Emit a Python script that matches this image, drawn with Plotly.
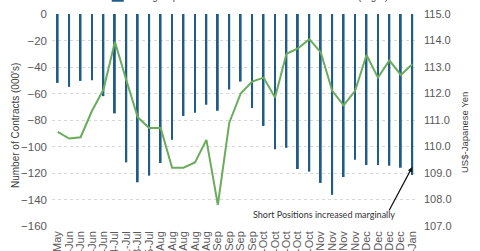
import plotly.graph_objects as go

dates = ["30-May", "6-Jun", "13-Jun", "20-Jun", "27-Jun", "4-Jul", "11-Jul", "18-Jul",
         "25-Jul", "1-Aug", "8-Aug", "15-Aug", "22-Aug", "29-Aug", "5-Sep", "12-Sep",
         "19-Sep", "26-Sep", "3-Oct", "10-Oct", "17-Oct", "24-Oct", "31-Oct", "7-Nov",
         "14-Nov", "21-Nov", "28-Nov", "5-Dec", "12-Dec", "19-Dec", "26-Dec", "2-Jan"]

large_speculators = [-52, -55, -50.5, -50, -62, -75, -112, -127, -122, -112.5, -95, -77,
                     -74.5, -68.5, -73, -57, -51, -71, -84.5, -102, -101, -117, -119,
                     -127.5, -136.5, -123, -110, -114, -114, -114.5, -116, -121.5]

usd_yen = [110.55, 110.3, 110.35, 111.35, 112.15, 113.95, 112.5, 111.1, 110.7, 110.7,
           109.2, 109.2, 109.4, 110.25, 107.8, 110.9, 112.0, 112.45, 112.6, 111.85,
           113.5, 113.7, 114.05, 113.55, 112.1, 111.55, 112.1, 113.45, 112.6, 113.25,
           112.7, 113.1]

left_ticks = [0, -20, -40, -60, -80, -100, -120, -140, -160]
right_ticks = [107.0, 108.0, 109.0, 110.0, 111.0, 112.0, 113.0, 114.0, 115.0]

FONT = "Liberation Sans, Arial, sans-serif"
TICK_COLOR = "#595959"

fig = go.Figure()
fig.add_trace(go.Bar(
    x=dates, y=large_speculators, name="Large Speculators",
    marker=dict(color="#1f5d88", line=dict(width=0)), width=0.16,
))
fig.add_trace(go.Scatter(
    x=dates, y=usd_yen, name="USD-Yen(Right)", yaxis="y2", mode="lines",
    line=dict(color="#6aab5c", width=2),
))

fig.update_layout(
    width=480, height=251,
    margin=dict(l=52, r=62, t=14, b=25, autoexpand=False),
    paper_bgcolor="white", plot_bgcolor="white",
    font=dict(family=FONT, color=TICK_COLOR),
    showlegend=True,
    legend=dict(orientation="h", x=0.125, xanchor="left", y=1.086, yanchor="middle",
                font=dict(size=10, color="#404040"), bgcolor="rgba(0,0,0,0)",
                entrywidth=134, entrywidthmode="pixels", traceorder="normal"),
    xaxis=dict(type="category", tickangle=-90, tickfont=dict(size=11, color=TICK_COLOR),
               tickmode="linear", tick0=0, dtick=1,
               showgrid=False, showline=False, ticks="", automargin=False,
               ticklabelstandoff=2,
               range=[-0.5, len(dates) - 0.5]),
    yaxis=dict(range=[-160, 0], tickvals=left_ticks, tickfont=dict(size=11.5, color=TICK_COLOR),
               showgrid=True, gridcolor="#d9d9d9", griddash="dot", gridwidth=1,
               zeroline=False, showline=False, ticks="", automargin=False,
               ticklabelstandoff=4),
    yaxis2=dict(range=[107, 115], tickvals=right_ticks, tickformat=".1f", overlaying="y",
                side="right", showgrid=False, zeroline=False, showline=False, ticks="",
                tickfont=dict(size=11, color=TICK_COLOR), automargin=False,
                ticklabelstandoff=5),
)

fig.add_annotation(text="Number of Contracts (000's)", xref="paper", yref="paper",
                   x=(15 - 52) / 366, y=(226 - 126) / 212, textangle=-90, showarrow=False,
                   font=dict(size=10, color="#404040", family=FONT),
                   xanchor="center", yanchor="middle")
fig.add_annotation(text="US$-Japanese Yen", xref="paper", yref="paper",
                   x=(464 - 52) / 366, y=(226 - 132) / 212, textangle=-90, showarrow=False,
                   font=dict(size=9.5, color="#404040", family=FONT),
                   xanchor="center", yanchor="middle")
fig.add_annotation(text="Short Positions increased marginally", xref="x", yref="y",
                   x=23.3, y=-151.5, showarrow=False,
                   font=dict(size=9, color="#333333", family="Liberation Sans Narrow, Lato, sans-serif"))
fig.add_annotation(text="", xref="x", yref="y", x=31, y=-115.5, ax=-24, ay=45,
                   showarrow=True, arrowhead=2, arrowsize=0.8, arrowwidth=1.2,
                   arrowcolor="#111111")

fig.write_html("out.html")
